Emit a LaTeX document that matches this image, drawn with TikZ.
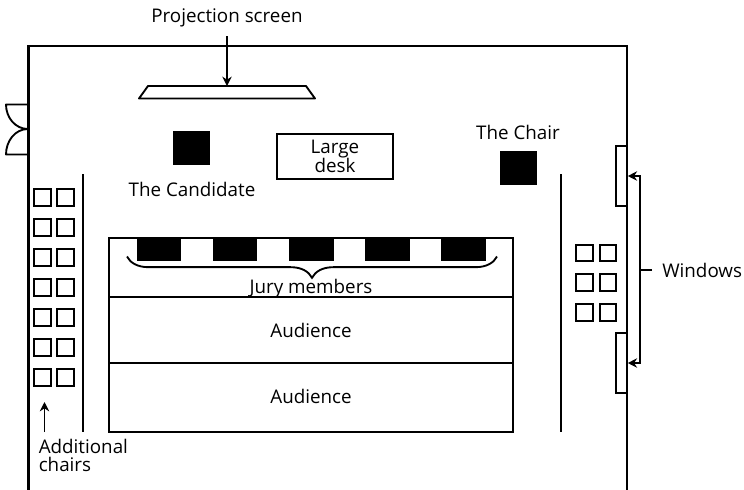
\documentclass[tikz,border=0pt]{standalone}
\usepackage{fontspec}
\setmainfont{Open Sans}
\usetikzlibrary{arrows.meta}
\usetikzlibrary{decorations.pathreplacing}
\tikzstyle{arrow} = [line width=1.2pt,-{Stealth[length=7pt,width=7pt]}]
\tikzstyle{wall} = [line width=1.6pt]
\tikzstyle{thing} = [rectangle, draw, line width=1.4pt, inner sep=0pt]
\tikzstyle{seat} = [thing, fill=black, minimum width=32pt, minimum height=16pt]
\tikzstyle{spare} = [thing, minimum width=12.2pt, minimum height=12.2pt]
\tikzstyle{window} = [thing, minimum width=8pt, minimum height=44.5pt]
\tikzstyle{lbl} = [font=\fontsize{14.1pt}{14.2pt}\selectfont, inner sep=0pt, align=center]

\begin{document}
\begin{tikzpicture}[x=0.75pt,y=-0.75pt]
\useasboundingbox (0,0) rectangle (744,490);
% room
\draw [wall] (28.5,490) -- (28.5,46.3) -- (627,46.3) -- (627,490);
% door
\draw [thing, line join=round] (28,104.5) -- (6,104.5) to[out=-90,in=180] (28,129) to[out=180,in=90] (6,154.5) -- (28,154.5);
% front of the room
\draw [thing, line join=round] (139,98.5) -- (148,86) -- (306,86) -- (315,98.5) -- cycle;
\coordinate (screentop) at (227,86);
\node [lbl] (screenlbl) at (227,18) {Projection screen};
\node [thing, fill=black, minimum width=27pt, minimum height=24pt] (candidate) at (191.5,148) {};
\node [lbl] (candidatelbl) at (192,189) {The Candidate};
\node [thing, lbl, minimum width=87pt, minimum height=33.5pt] (desk) at (335,156.5) {Large\\desk};
\node [thing, fill=black, minimum width=27pt, minimum height=24pt] (chair) at (518.5,168) {};
\node [lbl] (chairlbl) at (518,132) {The Chair};
\draw [wall] (83,174) coordinate (leftpart) -- (83,432);
\draw [wall] (561,174) coordinate (rightpart) -- (561,432);
% seating block
\node [thing, minimum width=303pt, minimum height=145.5pt] (block) at (311,335) {};
\draw [thing] (block.west |- 0,297) -- (block.east |- 0,297);
\draw [thing] (block.west |- 0,363) -- (block.east |- 0,363);
\foreach \x [count=\i] in {159,235,311.5,387.5,463.5}
  \node [seat] (jury\i) at (\x,249) {};
\draw [thing, decorate, decoration={brace, amplitude=16pt}] (497,256.5) -- (127,256.5);
\node [lbl] (jurylbl) at (311,289) {Jury members};
\node [lbl] (aud1) at (311,330) {Audience};
\node [lbl] (aud2) at (311,396) {Audience};
% additional chairs
\foreach \y [count=\i] in {197.5,227.5,257.5,287.5,317.5,347.5,377.5} {
  \node [spare] (la\i) at (42.5,\y) {};
  \node [spare] (lb\i) at (65.5,\y) {};
}
\foreach \y [count=\i] in {253,282.5,312.5} {
  \node [spare] (ra\i) at (584.5,\y) {};
  \node [spare] (rb\i) at (608,\y) {};
}
\node [lbl, align=left, anchor=north west] (addlbl) at (38.5,438.5) {Additional\\chairs};
\coordinate (addtip) at (44.5,402);
\draw [arrow] (44.5,432) coordinate (addtail) -- (addtip);
% windows
\node [window] (win1) at (621.5,176) {};
\node [window] (win2) at (621.5,363) {};
\node [lbl, anchor=west, inner xsep=7.5pt] (windows) at (652,270) {Windows};
\coordinate (split) at (640,270);
\draw [thing] (windows) -- (split);
\draw [arrow] (split) |- (win1.east);
\draw [arrow] (split) |- (win2.east);
\draw [arrow] (screenlbl) ++(0,18) coordinate (screentail) -- (screentop);
\end{tikzpicture}
\end{document}
